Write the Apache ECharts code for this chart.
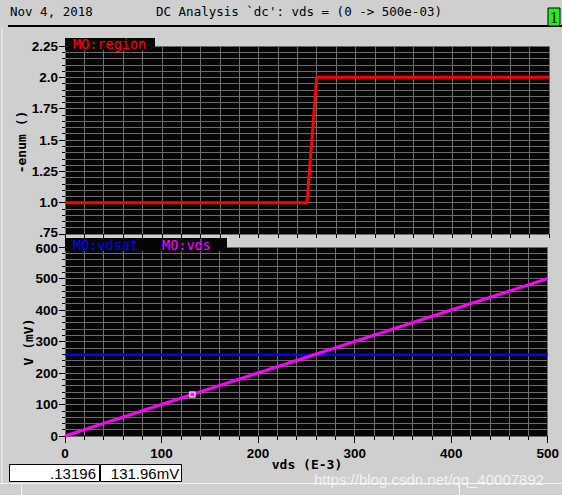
<!DOCTYPE html>
<html>
<head>
<meta charset="utf-8">
<script src="https://cdn.jsdelivr.net/npm/echarts@6/dist/echarts.min.js"></script>
<style>
html,body{margin:0;padding:0;background:#cfcfcf;}
#chart{width:562px;height:495px;}
</style>
</head>
<body>
<div id="chart"></div>
<script>
// ---- data ----
const headerDate = 'Nov 4, 2018';
const headerTitle = "DC Analysis `dc': vds = (0 -> 500e-03)";
const xTickLabels = ['0', '100', '200', '300', '400', '500'];
const topTickLabels = ['.75', '1.0', '1.25', '1.5', '1.75', '2.0', '2.25'];
const bottomTickLabels = ['0', '100', '200', '300', '400', '500', '600'];
const regionX = [0, 250, 260, 500];
const regionY = [1.0, 1.0, 2.0, 2.0];
const vdsatX = [0, 500];
const vdsatY = [258, 258];
const vdsX = [0, 100, 200, 300, 400, 500];
const vdsY = [0, 100, 200, 300, 400, 500];
const cursorX = 131.96;
const cursorY = 131.96;
const readoutX = '.13196';
const readoutY = '131.96mV';
const topYName = '-enum ()';
const bottomYName = 'V (mV)';
const xName = 'vds (E-3)';
const watermark = 'https://blog.csdn.net/qq_40007892';

const zip = (xs, ys) => xs.map((x, i) => [x, ys[i]]);

const chart = echarts.init(document.getElementById('chart'), null, {renderer: 'svg'});

const gridColor = '#6c6c6c';
const labelStyle = {fontFamily: 'Liberation Sans', fontWeight: 'bold', fontSize: 13.5, color: '#000'};
const tickFont = {...labelStyle, rich: {
  up: {...labelStyle, padding: [0, 0, 4, 0]},
  down: {...labelStyle, padding: [3, 0, 0, 0]}
}};

function xAxisCfg(gridIndex, showLabels) {
  return {
    type: 'value', gridIndex, min: 0, max: 500, interval: 100,
    axisLine: {show: false},
    axisTick: {show: true, length: showLabels ? 7 : 4, lineStyle: {color: '#000'}},
    minorTick: {show: true, splitNumber: 5, length: 4, lineStyle: {color: '#000'}},
    splitLine: {show: true, lineStyle: {color: gridColor, width: 1}},
    minorSplitLine: {show: true, lineStyle: {color: gridColor, width: 1}},
    axisLabel: {show: showLabels, margin: 10, ...tickFont,
      formatter: v => xTickLabels[Math.round(v / 100)]}
  };
}
function yAxisCfg(gridIndex, min, max, interval, labels, edge) {
  return {
    type: 'value', gridIndex, min, max, interval,
    axisLine: {show: false},
    axisTick: {show: true, length: 6, lineStyle: {color: '#000'}},
    minorTick: {show: true, splitNumber: 5, length: 3, lineStyle: {color: '#000'}},
    splitLine: {show: true, lineStyle: {color: gridColor, width: 1}},
    minorSplitLine: {show: true, lineStyle: {color: gridColor, width: 1}},
    axisLabel: {show: true, margin: 7, ...tickFont,
      formatter: v => {
        const i = Math.round((v - min) / interval);
        const t = labels[i];
        if (edge === 'bottom' && i === 0) return '{up|' + t + '}';
        if (edge === 'top' && i === labels.length - 1) return '{down|' + t + '}';
        return t;
      }}
  };
}

const option = {
  backgroundColor: '#cfcfcf',
  animation: false,
  grid: [
    {left: 65, top: 46, width: 484, height: 188, show: true, backgroundColor: '#050505', borderWidth: 0},
    {left: 65, top: 247, width: 484, height: 189, show: true, backgroundColor: '#050505', borderWidth: 0}
  ],
  xAxis: [xAxisCfg(0, false), xAxisCfg(1, true)],
  yAxis: [
    yAxisCfg(0, 0.75, 2.25, 0.25, topTickLabels, 'bottom'),
    yAxisCfg(1, 0, 600, 100, bottomTickLabels, 'top')
  ],
  series: [
    {type: 'line', name: 'MO:region', xAxisIndex: 0, yAxisIndex: 0, data: zip(regionX, regionY),
      showSymbol: false, lineStyle: {color: '#ff0000', width: 3}},
    {type: 'line', name: 'MO:vdsat', xAxisIndex: 1, yAxisIndex: 1, data: zip(vdsatX, vdsatY),
      showSymbol: false, lineStyle: {color: '#0000ff', width: 2.5}},
    {type: 'line', name: 'MO:vds', xAxisIndex: 1, yAxisIndex: 1, data: zip(vdsX, vdsY),
      showSymbol: false, lineStyle: {color: '#ff00ff', width: 3}},
    {type: 'scatter', xAxisIndex: 1, yAxisIndex: 1, data: [[cursorX, cursorY]],
      symbol: 'rect', symbolSize: 5, z: 10,
      itemStyle: {color: '#ff00ff', borderColor: '#ffffff', borderWidth: 1.5}}
  ],
  graphic: [
    // header
    {type: 'text', left: 10, top: 5, style: {text: headerDate, font: '12.5px "DejaVu Sans Mono"', fill: '#000'}},
    {type: 'text', left: 156, top: 5, style: {text: headerTitle, font: '12.5px "DejaVu Sans Mono"', fill: '#000'}},
    {type: 'line', shape: {x1: 8, y1: 26, x2: 562, y2: 26}, style: {stroke: '#000', lineWidth: 2}},
    {type: 'rect', shape: {x: 548, y: 8, width: 12, height: 18}, style: {fill: '#22ee22', stroke: '#000', lineWidth: 1}},
    {type: 'text', left: 550, top: 9, style: {text: '1', font: '16px "Liberation Serif"', fill: '#000'}},
    // frame
    {type: 'line', shape: {x1: 2, y1: 27, x2: 2, y2: 483}, style: {stroke: '#f4f4f4', lineWidth: 1}},
    {type: 'line', shape: {x1: 0, y1: 483.5, x2: 562, y2: 483.5}, style: {stroke: '#f4f4f4', lineWidth: 1}},
    {type: 'line', shape: {x1: 21.5, y1: 485, x2: 21.5, y2: 495}, style: {stroke: '#f4f4f4', lineWidth: 1}},
    {type: 'line', shape: {x1: 459.5, y1: 485, x2: 459.5, y2: 495}, style: {stroke: '#f4f4f4', lineWidth: 1}},
    // legend tabs
    {type: 'rect', z: 100, shape: {x: 65, y: 38, width: 90, height: 12}, style: {fill: '#050505'}},
    {type: 'text', z: 101, x: 73, y: 44, style: {text: 'MO:region', font: '13.5px "DejaVu Sans Mono"', fill: '#ff0000', verticalAlign: 'middle'}},
    {type: 'rect', z: 100, shape: {x: 65, y: 238, width: 162, height: 13}, style: {fill: '#050505'}},
    {type: 'text', z: 101, x: 73, y: 245, style: {text: 'MO:vdsat', font: '13.5px "DejaVu Sans Mono"', fill: '#0000ff', verticalAlign: 'middle'}},
    {type: 'text', z: 101, x: 162, y: 245, style: {text: 'MO:vds', font: '13.5px "DejaVu Sans Mono"', fill: '#ff00ff', verticalAlign: 'middle'}},
    // axis names
    {type: 'text', x: 21, y: 142, rotation: Math.PI / 2,
      style: {text: topYName, font: 'bold 13px "DejaVu Sans Mono"', fill: '#000', align: 'center', verticalAlign: 'middle'}},
    {type: 'text', x: 28, y: 342, rotation: Math.PI / 2,
      style: {text: bottomYName, font: 'bold 13px "DejaVu Sans Mono"', fill: '#000', align: 'center', verticalAlign: 'middle'}},
    {type: 'text', x: 307, y: 464.5,
      style: {text: xName, font: 'bold 13px "DejaVu Sans Mono"', fill: '#000', align: 'center', verticalAlign: 'middle'}},
    // readout boxes
    {type: 'rect', shape: {x: 9.5, y: 464.5, width: 90, height: 17}, style: {fill: '#fff', stroke: '#000', lineWidth: 1}},
    {type: 'rect', shape: {x: 100.5, y: 464.5, width: 81, height: 17}, style: {fill: '#fff', stroke: '#000', lineWidth: 1}},
    {type: 'text', x: 96, y: 473, style: {text: readoutX, font: '15px "Liberation Sans"', fill: '#000', align: 'right', verticalAlign: 'middle'}},
    {type: 'text', x: 145, y: 473, style: {text: readoutY, font: '15px "Liberation Sans"', fill: '#000', align: 'center', verticalAlign: 'middle'}},
    // watermark
    {type: 'text', x: 429, y: 479.5, z: 100,
      style: {text: watermark, font: '15px "Liberation Sans"', fill: 'rgba(255,255,255,0.75)', align: 'center', verticalAlign: 'middle'}}
  ]
};
chart.setOption(option);
</script>
</body>
</html>
